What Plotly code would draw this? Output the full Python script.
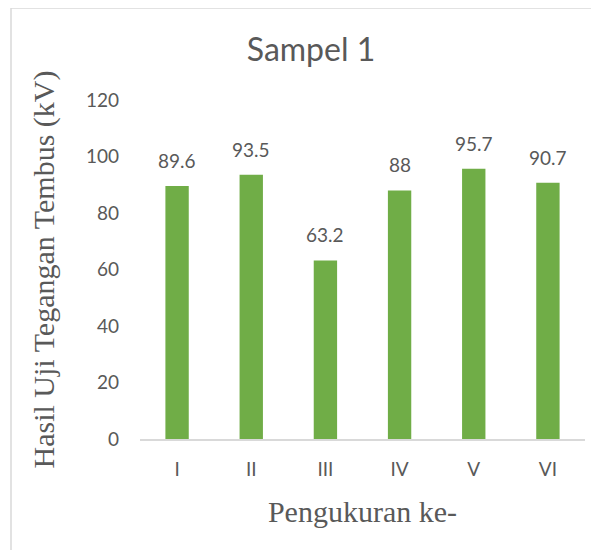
import plotly.graph_objects as go

categories = ["I", "II", "III", "IV", "V", "VI"]
values = [89.6, 93.5, 63.2, 88, 95.7, 90.7]
value_labels = ["89.6", "93.5", "63.2", "88", "95.7", "90.7"]
y_ticks = [0, 20, 40, 60, 80, 100, 120]

text_color = "#595959"
bar_color = "#70AD47"
line_color = "#D9D9D9"

fig = go.Figure()
fig.add_trace(go.Bar(
    x=categories, y=values,
    marker=dict(color=bar_color, line=dict(width=0)),
    width=0.315,
    hoverinfo="x+y",
))

for c, v, t in zip(categories, values, value_labels):
    fig.add_annotation(
        x=c, y=v, text=t, showarrow=False,
        yanchor="bottom", yshift=12,
        font=dict(family="Lato", size=19, color=text_color),
    )

fig.add_shape(
    type="rect", xref="paper", yref="paper",
    x0=(11 - 140) / 445, x1=1.3, y0=-0.6, y1=(439 - 8) / 339,
    line=dict(color=line_color, width=1.5), fillcolor="rgba(0,0,0,0)",
    layer="below",
)

fig.update_layout(
    width=599, height=550,
    margin=dict(l=132, r=22, t=92, b=119),
    paper_bgcolor="white", plot_bgcolor="white",
    showlegend=False,
    title=dict(
        text="Sampel 1", x=303 / 599, xanchor="center",
        y=1 - 42 / 550, yanchor="middle",
        font=dict(family="Lato", size=32, color=text_color),
    ),
    xaxis=dict(
        type="category",
        showgrid=False, zeroline=False,
        showline=True, linecolor=line_color, linewidth=1.5,
        ticks="", ticklabelstandoff=12,
        tickfont=dict(family="Lato", size=19, color=text_color),
        title=dict(text="Pengukuran ke-", standoff=22,
                   font=dict(family="Liberation Serif", size=30, color=text_color)),
    ),
    yaxis=dict(
        range=[0, 120], tickvals=y_ticks,
        showgrid=False, zeroline=False, showline=False,
        ticks="", ticklabelstandoff=20,
        tickfont=dict(family="Lato", size=19, color=text_color),
        title=dict(text="Hasil Uji Tegangan Tembus (kV)", standoff=22,
                   font=dict(family="Liberation Serif", size=30, color=text_color)),
    ),
)

fig.write_html("out.html")
